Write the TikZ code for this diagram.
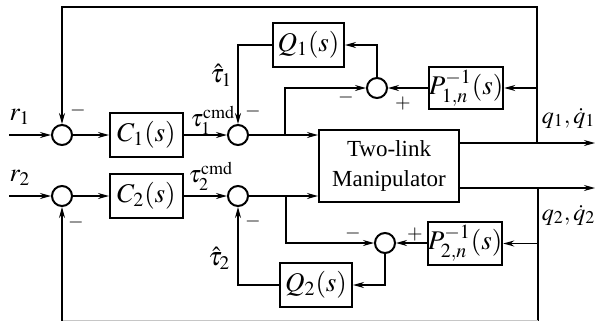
\documentclass[tikz,border=0pt]{standalone}
\usepackage{mathptmx}
\usepackage{fontspec}
\setmainfont{Liberation Serif}
\usetikzlibrary{arrows.meta}
\tikzset{
  blk/.style={draw, line width=1pt, inner sep=0pt, font=\fontsize{13.5}{15}\selectfont},
  sumc/.style={draw, circle, line width=1pt, minimum size=10pt, inner sep=0pt},
  arr/.style={-{Stealth[length=5.5pt,width=3pt]}},
  ln/.style={line width=0.7pt},
  lbl/.style={inner sep=0pt, font=\fontsize{13}{15}\selectfont},
  slbl/.style={inner sep=0pt, font=\fontsize{12}{14}\selectfont},
  sgn/.style={inner sep=0pt, font=\fontsize{10}{12}\selectfont}
}
\begin{document}
\begin{tikzpicture}[x=0.5pt,y=-0.5pt,ln]
\useasboundingbox (0,0) rectangle (596,322);
% blocks
\node[blk, minimum width=36.5pt, minimum height=22pt] (C1) at (146.5,135) {$C_1(s)$};
\node[blk, minimum width=36.5pt, minimum height=22pt] (C2) at (146.5,196) {$C_2(s)$};
\node[blk, minimum width=35.5pt, minimum height=22pt] (Q1) at (308.5,45) {$Q_1(s)$};
\node[blk, minimum width=36pt, minimum height=22pt] (Q2) at (316,285) {$Q_2(s)$};
\node[blk, minimum width=36pt, minimum height=21pt] (P1) at (466,88) {$P^{-1}_{1,n}(s)$};
\node[blk, minimum width=36pt, minimum height=21.5pt] (P2) at (465,243.5) {$P^{-1}_{2,n}(s)$};
\node[blk, minimum width=70pt, minimum height=36pt, align=center, font=\fontsize{11.5}{15}\selectfont] (TL) at (389,166) {Two-link\\Manipulator};
% summing junctions
\node[sumc] (s1) at (62,135) {};
\node[sumc] (s2) at (238,135) {};
\node[sumc] (s3) at (377,88) {};
\node[sumc] (s4) at (62,196) {};
\node[sumc] (s5) at (238,196) {};
\node[sumc] (s6) at (385,243) {};
% coordinates
\coordinate (in1) at (9,135);
\coordinate (in2) at (9,196);
\coordinate (b1) at (285,135);
\coordinate (b2) at (286,196);
\coordinate (j1) at (537,143);
\coordinate (j1p) at (537,88);
\coordinate (tr) at (537,7);
\coordinate (tl) at (62,7);
\coordinate (o1) at (595,143);
\coordinate (j2) at (538,188);
\coordinate (j2p) at (538,243.5);
\coordinate (br) at (538,320.5);
\coordinate (bl) at (62,320.5);
\coordinate (o2) at (595,188);
% row 1
\draw[arr] (in1) -- (s1);
\draw[arr] (s1) -- (C1);
\draw[arr] (C1) -- (s2);
\draw (s2) -- (b1);
\draw[arr] (b1) -- (b1 -| TL.west);
\draw[arr] (b1) |- (s3);
\draw[arr] (P1) -- (s3);
\draw[arr] (j1p) -- (P1);
\draw[arr] (s3) |- (Q1);
\draw[arr] (Q1) -| (s2);
\draw[arr] (TL.east |- j1) -- (o1);
\draw[arr] (j1) -- (tr) -- (tl) -- (s1);
% row 2
\draw[arr] (in2) -- (s4);
\draw[arr] (s4) -- (C2);
\draw[arr] (C2) -- (s5);
\draw (s5) -- (b2);
\draw[arr] (b2) -- (b2 -| TL.west);
\draw[arr] (b2) |- (s6);
\draw[arr] (P2.west |- s6) -- (s6);
\draw[arr] (j2p) -- (P2);
\draw[arr] (s6) |- (Q2);
\draw[arr] (Q2) -| (s5);
\draw[arr] (TL.east |- j2) -- (o2);
\draw (j2) -- (br);
\draw[gray!45] (br) -- (bl);
\draw[arr] (bl) -- (s4);
% labels
\node[lbl] (lr1) at (20,117) {$r_1$};
\node[lbl] (lr2) at (20,178) {$r_2$};
\node[slbl, anchor=west] (lt1c) at (190,120) {$\tau_1^{\mathrm{cmd}}$};
\node[slbl, anchor=west] (lt2c) at (188,176) {$\tau_2^{\mathrm{cmd}}$};
\node[lbl, anchor=east] (lth1) at (233,75) {$\hat{\tau}_1$};
\node[lbl, anchor=east] (lth2) at (231,258) {$\hat{\tau}_2$};
\node[slbl, anchor=east] (lq1) at (596,118) {$q_1, \dot{q}_1$};
\node[slbl, anchor=east] (lq2) at (596,215) {$q_2, \dot{q}_2$};
\node[sgn] (m1) at (78,110) {$-$};
\node[sgn] (m2) at (253,111) {$-$};
\node[sgn] (m3) at (346,97) {$-$};
\node[sgn] (p3) at (403,104) {$+$};
\node[sgn] (m4) at (76,222) {$-$};
\node[sgn] (m5) at (253,221) {$-$};
\node[sgn] (m6) at (353,233) {$-$};
\node[sgn] (p6) at (415,235) {$+$};
\end{tikzpicture}
\end{document}
